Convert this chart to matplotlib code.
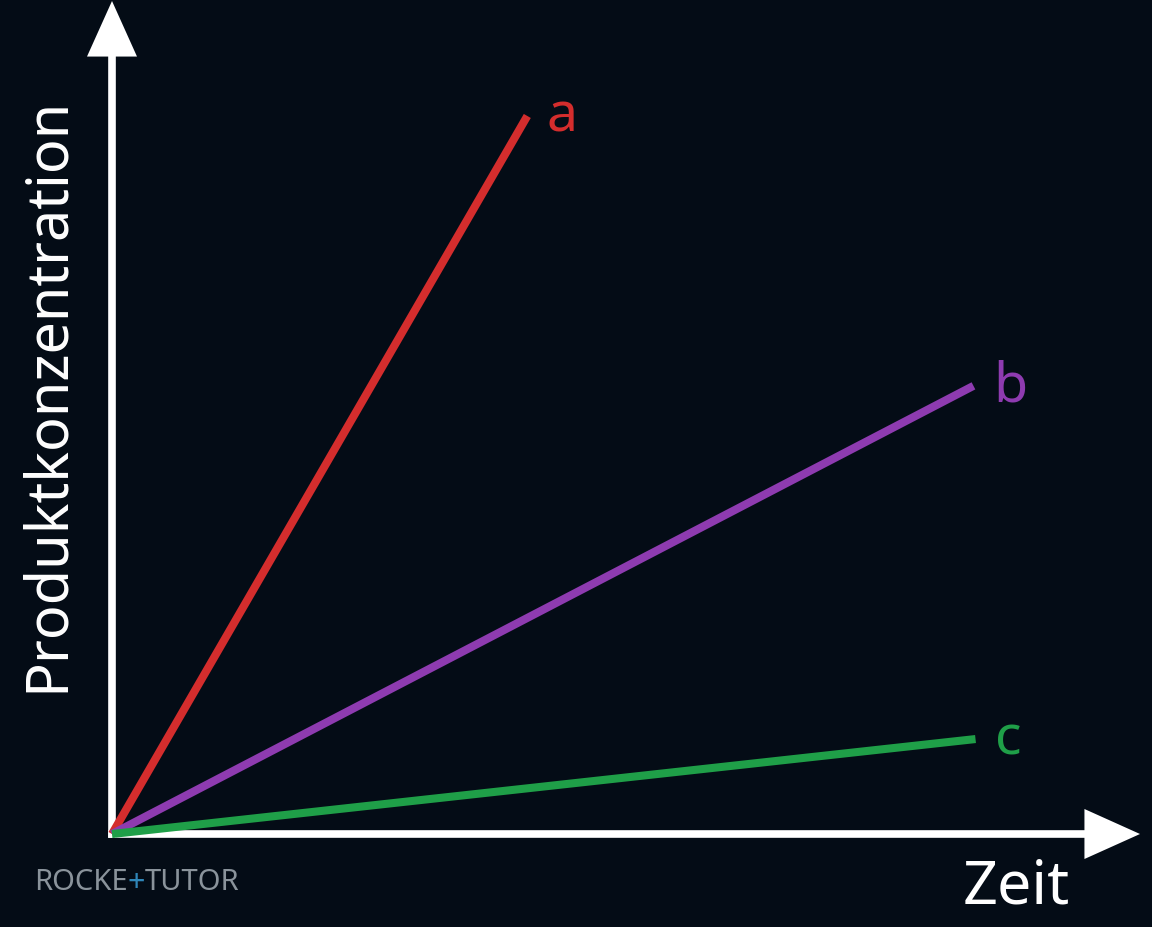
import matplotlib

matplotlib.use('Agg')
import matplotlib.pyplot as plt

plt.rcParams['font.family'] = ['Noto Sans', 'DejaVu Sans']

# reaction curves: end points (time, product concentration), arbitrary units
labels = ['a', 'b', 'c']
t_end = [4.04, 8.38, 8.40]
p_end = [8.62, 5.38, 1.14]
colors = ['#d42d2d', '#8e3bb0', '#1f9f48']

bg = '#040c16'

fig = plt.figure(figsize=(11.52, 9.28), dpi=100, facecolor=bg)
ax = fig.add_axes([112 / 1152, 93 / 928, 1028 / 1152, 833 / 928])
ax.set_facecolor(bg)
ax.patch.set_alpha(0)
ax.set_xlim(0, 10)
ax.set_ylim(0, 10)
ax.axis('off')

# axes with arrow heads
for tip in [(10, 0), (0, 10)]:
    ax.plot([0, tip[0] * 0.95], [0, tip[1] * 0.95], color='white', lw=5.5,
            solid_capstyle='projecting', clip_on=False)
    ax.annotate('', xy=tip, xytext=(tip[0] * 0.9, tip[1] * 0.9),
                arrowprops=dict(arrowstyle='-|>,head_length=0.4,head_width=0.18',
                                mutation_scale=100, lw=0, color='white',
                                shrinkA=0, shrinkB=0),
                annotation_clip=False)

for lab, t, p, c in zip(labels, t_end, p_end, colors):
    ax.plot([0, t], [0, p], color=c, lw=5.8, solid_capstyle='butt', clip_on=False)
    ax.annotate(lab, xy=(t, p), xytext=(14, 0), textcoords='offset points',
                color=c, fontsize=40, ha='left', va='center')

fig.text(47 / 1152, 1 - 394 / 928, 'Produktkonzentration', color='white', fontsize=41.5,
         rotation=90, ha='center', va='center')
fig.text(1016 / 1152, 1 - 888 / 928, 'Zeit', color='white', fontsize=44,
         ha='center', va='center')

# watermark
t1 = fig.text(34 / 1152, 1 - 883 / 928, 'ROCKE', color='#8a939b', fontsize=21,
              va='center')
t2 = ax.annotate('+', xy=(1, 0.5), xycoords=t1, color='#2f86b8', fontsize=22,
                 fontweight='bold', va='center')
ax.annotate('TUTOR', xy=(1, 0.5), xycoords=t2, color='#8a939b', fontsize=21,
            va='center', annotation_clip=False)

fig.savefig('out.png', dpi=100, facecolor=bg)
